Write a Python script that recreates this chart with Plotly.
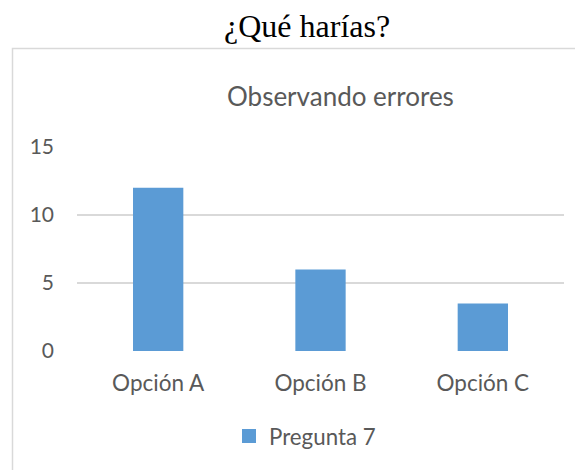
import plotly.graph_objects as go

# data
opciones = ["Opción A", "Opción B", "Opción C"]
pregunta_7 = [12, 6, 3.5]
y_ticks = [0, 5, 10, 15]

# the page body has an 8px margin, so the figure is shifted by that much
OFF = 8
W, H = 583 - OFF, 470 - OFF
# plot area, in page pixels
L, R, T, B = 77, 564, 147, 351


def px_x(x):
    return (x - L) / (R - L)


def px_y(y):
    return (B - y) / (B - T)


fig = go.Figure()
fig.add_trace(go.Bar(
    x=opciones, y=pregunta_7, name="Pregunta 7", showlegend=False,
    marker=dict(color="#5b9bd5", line=dict(width=0)),
))
# legend entry with a bigger square swatch
fig.add_trace(go.Scatter(
    x=[None], y=[None], mode="markers", name="Pregunta 7",
    marker=dict(symbol="square", size=14, color="#5b9bd5"),
))

font = "Lato, 'Noto Sans', sans-serif"
grey = "#595959"

fig.update_layout(
    width=W, height=H,
    margin=dict(l=L - OFF, r=W - (R - OFF), t=T - OFF, b=H - (B - OFF)),
    paper_bgcolor="white", plot_bgcolor="white",
    bargap=0.69,
    showlegend=True,
    legend=dict(orientation="h", x=px_x(305), xanchor="center", y=px_y(436), yanchor="middle",
                font=dict(family=font, size=22.3, color=grey), itemwidth=30),
    xaxis=dict(showgrid=False, showline=False, ticks="", ticklabelstandoff=16,
               tickfont=dict(family=font, size=22.5, color=grey), zeroline=False),
    yaxis=dict(range=[0, 15], tickvals=y_ticks, showgrid=True, gridcolor="#d9d9d9", gridwidth=1.5,
               zeroline=False, showline=False, ticks="", ticklabelstandoff=22,
               tickfont=dict(family=font, size=21, color=grey)),
    shapes=[dict(type="rect", xref="paper", yref="paper",
                 x0=px_x(12.5), x1=px_x(600), y0=px_y(48.5), y1=px_y(490),
                 line=dict(color="#d9d9d9", width=1.5), layer="below")],
    annotations=[
        dict(text="¿Qué harías?", xref="paper", yref="paper", x=px_x(307), y=px_y(26),
             xanchor="center", yanchor="middle", showarrow=False,
             font=dict(family="'Liberation Serif', 'Times New Roman', serif", size=32, color="black")),
        dict(text="Observando errores", xref="paper", yref="paper", x=px_x(340), y=px_y(96),
             xanchor="center", yanchor="middle", showarrow=False,
             font=dict(family=font, size=26, color=grey)),
    ],
)

fig.write_html("out.html")
